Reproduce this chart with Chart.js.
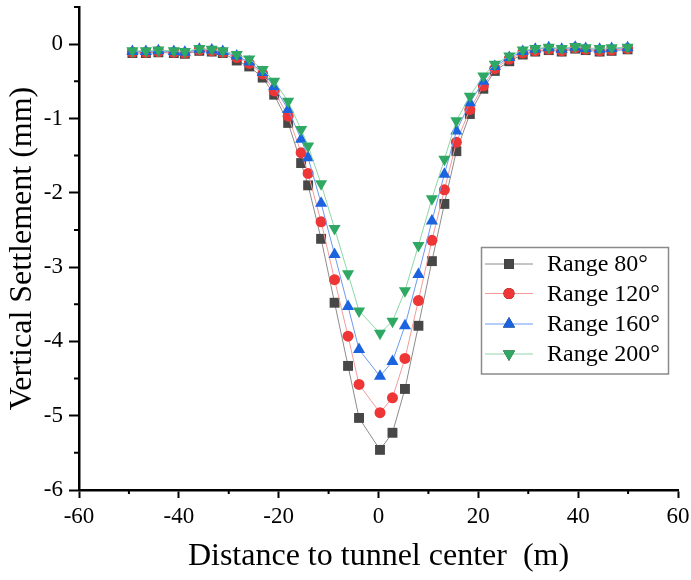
<!DOCTYPE html>
<html>
<head>
<meta charset="utf-8">
<script src="https://cdn.jsdelivr.net/npm/chart.js@4.4.1/dist/chart.umd.min.js"></script>
<style>
  html, body { margin: 0; padding: 0; background: #fff; }
  #wrap { width: 691px; height: 580px; }
</style>
</head>
<body>
<div id="wrap"><canvas id="settleChart" width="691" height="580"></canvas></div>
<script>
// Distance to tunnel center (m)
const distance = [-49.3, -46.6, -44.1, -41.0, -38.8, -35.9, -33.4, -31.2, -28.4, -25.9,
    -23.2, -20.9, -18.1, -15.5, -14.1, -11.5, -8.8, -6.1, -3.9, 0.3,
    2.8, 5.3, 8.0, 10.7, 13.2, 15.6, 18.3, 21.0, 23.3, 26.2,
    28.9, 31.4, 34.1, 36.7, 39.4, 41.5, 44.3, 46.7, 49.9];

// Vertical settlement (mm) per excavation range
const range80 = [-0.12, -0.12, -0.11, -0.12, -0.13, -0.09, -0.10, -0.12, -0.22, -0.30,
    -0.45, -0.68, -1.06, -1.60, -1.90, -2.62, -3.48, -4.33, -5.03, -5.46,
    -5.23, -4.64, -3.79, -2.92, -2.15, -1.44, -0.94, -0.60, -0.36, -0.23,
    -0.14, -0.10, -0.08, -0.10, -0.06, -0.08, -0.10, -0.09, -0.07];
const range120 = [-0.11, -0.11, -0.10, -0.11, -0.12, -0.08, -0.09, -0.11, -0.18, -0.26,
    -0.40, -0.63, -0.97, -1.46, -1.74, -2.39, -3.17, -3.93, -4.58, -4.96,
    -4.76, -4.23, -3.45, -2.64, -1.96, -1.32, -0.88, -0.56, -0.33, -0.20,
    -0.12, -0.09, -0.07, -0.09, -0.05, -0.07, -0.09, -0.08, -0.06];
const range160 = [-0.10, -0.10, -0.09, -0.10, -0.11, -0.07, -0.08, -0.10, -0.16, -0.24,
    -0.38, -0.57, -0.88, -1.28, -1.53, -2.14, -2.83, -3.53, -4.11, -4.47,
    -4.27, -3.79, -3.10, -2.38, -1.75, -1.17, -0.79, -0.50, -0.30, -0.18,
    -0.10, -0.07, -0.05, -0.07, -0.04, -0.06, -0.07, -0.06, -0.05];
const range200 = [-0.09, -0.09, -0.08, -0.09, -0.10, -0.06, -0.07, -0.09, -0.14, -0.20,
    -0.34, -0.50, -0.77, -1.15, -1.37, -1.88, -2.48, -3.09, -3.59, -3.89,
    -3.73, -3.32, -2.71, -2.08, -1.55, -1.03, -0.70, -0.43, -0.27, -0.16,
    -0.08, -0.06, -0.04, -0.06, -0.03, -0.05, -0.06, -0.05, -0.04];

const seriesNames = ['Range 80°', 'Range 120°', 'Range 160°', 'Range 200°'];
const xTickLabels = [-60, -40, -20, 0, 20, 40, 60];
const yTickLabels = [0, -1, -2, -3, -4, -5, -6];

const serif = "'Liberation Serif', 'Times New Roman', serif";

function toPoints(ys) {
    return distance.map((x, i) => ({ x: x, y: ys[i] }));
}

const styles = [
    { marker: '#474747', line: '#8c8c8c', shape: 'rect', radius: 7, rotation: 0 },
    { marker: '#ee3636', line: '#f49a9a', shape: 'circle', radius: 5.5, rotation: 0 },
    { marker: '#1b63df', line: '#6b9af0', shape: 'triangle', radius: 7, rotation: 0 },
    { marker: '#2ea862', line: '#8ed6a8', shape: 'triangle', radius: 7, rotation: 180 }
];

const allSeries = [range80, range120, range160, range200];

const datasets = allSeries.map((ys, i) => ({
    label: seriesNames[i],
    data: toPoints(ys),
    borderColor: styles[i].line,
    borderWidth: 1,
    pointStyle: styles[i].shape,
    pointRotation: styles[i].rotation,
    pointRadius: styles[i].radius,
    pointBackgroundColor: styles[i].marker,
    pointBorderColor: styles[i].marker,
    pointBorderWidth: 0,
    order: 4 - i
}));

// major ticks are drawn by Chart.js, minor ones are short stubs
const isMajorX = v => xTickLabels.includes(v);
const isMajorY = v => yTickLabels.includes(v);

const minorTicks = {
    id: 'minorTicks',
    afterDraw(chart) {
        const ctx = chart.ctx;
        const xs = chart.scales.x, ys = chart.scales.y;
        ctx.save();
        ctx.strokeStyle = '#000';
        ctx.lineWidth = 2;
        ctx.beginPath();
        xs.ticks.forEach(t => {
            if (isMajorX(t.value)) return;
            const px = xs.getPixelForValue(t.value);
            ctx.moveTo(px, xs.top);
            ctx.lineTo(px, xs.top + 4);
        });
        ys.ticks.forEach(t => {
            if (isMajorY(t.value)) return;
            const py = ys.getPixelForValue(t.value);
            ctx.moveTo(ys.right, py);
            ctx.lineTo(ys.right - 5, py);
        });
        ctx.stroke();
        ctx.restore();
    }
};

// legend drawn by hand inside the plot
const boxLegend = {
    id: 'boxLegend',
    afterDraw(chart) {
        const ctx = chart.ctx;
        const left = 481.5, top = 247.5, w = 187, h = 126.5;
        ctx.save();
        ctx.strokeStyle = '#8a8a8a';
        ctx.lineWidth = 1.5;
        ctx.strokeRect(left, top, w, h);
        ctx.font = '24px ' + serif;
        ctx.textBaseline = 'middle';
        ctx.fillStyle = '#000';
        const rows = [264, 293.5, 324, 354];
        seriesNames.forEach((name, i) => {
            const y = rows[i];
            ctx.strokeStyle = styles[i].line;
            ctx.lineWidth = 1;
            ctx.beginPath();
            ctx.moveTo(485, y);
            ctx.lineTo(533, y);
            ctx.stroke();
            Chart.helpers.drawPoint(ctx, {
                pointStyle: styles[i].shape,
                radius: styles[i].radius,
                rotation: styles[i].rotation,
                borderWidth: 0
            }, 509, y);
            ctx.fillStyle = styles[i].marker;
            ctx.fill();
            ctx.fillStyle = '#000';
            ctx.fillText(name, 547, y + 1);
        });
        ctx.restore();
    }
};

new Chart(document.getElementById('settleChart'), {
    type: 'line',
    data: { datasets: datasets },
    options: {
        responsive: false,
        animation: false,
        layout: { padding: { top: 6, right: 13, left: 0, bottom: 0 } },
        plugins: {
            legend: { display: false },
            tooltip: { enabled: false }
        },
        scales: {
            x: {
                type: 'linear',
                min: -60,
                max: 60,
                border: { display: true, color: '#000', width: 2.5 },
                grid: {
                    drawOnChartArea: false, drawTicks: true, tickLength: 8, tickWidth: 2,
                    tickColor: c => (c.tick && isMajorX(c.tick.value)) ? '#000' : 'rgba(0,0,0,0)'
                },
                ticks: {
                    stepSize: 10,
                    color: '#000',
                    padding: 5,
                    maxRotation: 0,
                    autoSkip: false,
                    font: { family: serif, size: 23 },
                    callback: v => isMajorX(v) ? String(v) : ''
                },
                title: {
                    display: true,
                    text: 'Distance to tunnel center  (m)',
                    color: '#000',
                    font: { family: serif, size: 32 },
                    padding: { top: 0, bottom: 4 }
                },
                afterFit: s => { s.height = 90; s.paddingLeft = 0; s.paddingRight = 0; }
            },
            y: {
                type: 'linear',
                min: -6,
                max: 0.5,
                border: { display: true, color: '#000', width: 2.5 },
                grid: {
                    drawOnChartArea: false, drawTicks: true, tickLength: 10, tickWidth: 2,
                    tickColor: c => (c.tick && isMajorY(c.tick.value)) ? '#000' : 'rgba(0,0,0,0)'
                },
                ticks: {
                    stepSize: 0.5,
                    color: '#000',
                    padding: 6,
                    autoSkip: false,
                    font: { family: serif, size: 23 },
                    callback: v => isMajorY(v) ? String(v) : ''
                },
                title: {
                    display: true,
                    text: 'Vertical Settlement (mm)',
                    color: '#000',
                    font: { family: serif, size: 32 },
                    padding: { top: 3, bottom: 0 }
                },
                afterFit: s => { s.width = 79; s.paddingTop = 0; s.paddingBottom = 0; }
            }
        }
    },
    plugins: [minorTicks, boxLegend]
});
</script>
</body>
</html>
